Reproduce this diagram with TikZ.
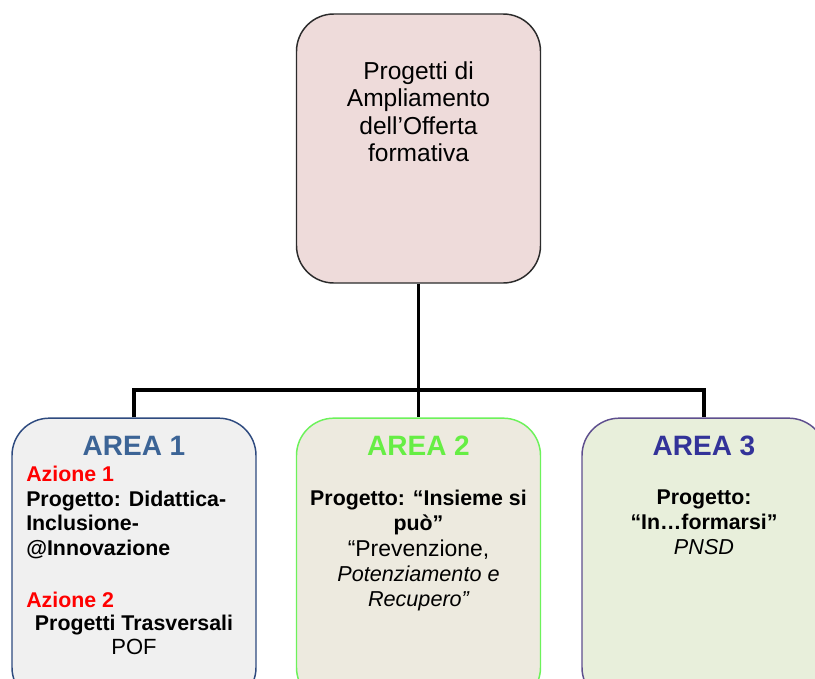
\documentclass[tikz,border=0pt]{standalone}
\usepackage{fontspec}
\setmainfont{Liberation Sans}
\definecolor{toppink}{HTML}{EEDBDA}
\definecolor{topline}{HTML}{2B2B2B}
\definecolor{aonefill}{HTML}{F0F0F0}
\definecolor{aoneline}{HTML}{2E4A7F}
\definecolor{aonehead}{HTML}{3C6496}
\definecolor{atwofill}{HTML}{EDEADF}
\definecolor{atwoline}{HTML}{6CF25A}
\definecolor{atwohead}{HTML}{66EE44}
\definecolor{athreefill}{HTML}{E8EFDB}
\definecolor{athreeline}{HTML}{5E4F8E}
\definecolor{athreehead}{HTML}{333399}
\definecolor{azred}{HTML}{FF0000}
\begin{document}
\begin{tikzpicture}[x=0.75pt,y=-0.75pt,
  box/.style={draw, rounded corners=28pt, line width=1.1pt, minimum width=183pt, inner sep=0},
  link/.style={line width=2.4pt},
  body/.style={font=\fontsize{16}{18.4}\selectfont\bfseries, inner sep=0},
  reg/.style={font=\fontsize{16.5}{18.4}\selectfont\mdseries},
  head/.style={font=\fontsize{21}{25}\selectfont\bfseries, inner sep=0, anchor=base}]
\clip (0,0) rectangle (815,679);
\useasboundingbox (0,0) rectangle (815,679);
\fill[white] (0,0) rectangle (815,679);
% boxes
\node[box, fill=toppink, draw=topline, minimum height=201.75pt] (top) at (418.5,148.5) {};
\node[box, fill=aonefill, draw=aoneline, minimum height=215pt] (a1) at (134,561.5) {};
\node[box, fill=atwofill, draw=atwoline, minimum height=215pt] (a2) at (418.5,561.5) {};
\node[box, fill=athreefill, draw=athreeline, minimum height=215pt] (a3) at (704,561.5) {};
% connectors
\coordinate (bar) at (418.5,390);
\coordinate (j1) at (a1.north |- bar);
\coordinate (j3) at (a3.north |- bar);
\draw[link] (top.south) -- (bar) -- (a2.north);
\draw[link] (a1.north) -- (j1) -- (j3) -- (a3.north);
% texts
\node[inner sep=0, align=center, anchor=north, font=\fontsize{18.4}{20.5}\selectfont, text=black] (toptext) at (418.5,61.4)
  {Progetti di\\Ampliamento\\dell’Offerta\\formativa};
\node[head, text=aonehead] (h1) at (134,455) {AREA 1};
\node[head, text=atwohead] (h2) at (418.5,455) {AREA 2};
\node[head, text=athreehead] (h3) at (704,455) {AREA 3};
\node[body, align=left, anchor=north west] (a1t) at (26,465.8)
  {\textcolor{azred}{Azione 1}\\Progetto: Didattica-\\Inclusione-\\@Innovazione\\[20.6pt]\textcolor{azred}{Azione 2}};
\node[body, align=center, anchor=north] (a1p) at (134,614.7)
  {Progetti Trasversali\\{\fontsize{16.5}{18.4}\selectfont\mdseries POF}};
\node[body, font=\fontsize{16}{19}\selectfont\bfseries, align=center, anchor=north] (a2t) at (418.5,489.7)
  {Progetto: “Insieme si\\può”\\{\fontsize{17.2}{19}\selectfont\mdseries “Prevenzione,}\\{\fontsize{16.2}{19}\selectfont\mdseries\itshape Potenziamento e}\\{\fontsize{16.2}{19}\selectfont\mdseries\itshape Recupero”}};
\node[body, font=\fontsize{16}{18.75}\selectfont\bfseries, align=center, anchor=north] (a3t) at (704,489.7)
  {Progetto:\\“In…formarsi”\\{\fontsize{16.2}{18.75}\selectfont\mdseries\itshape PNSD}};
\end{tikzpicture}
\end{document}
